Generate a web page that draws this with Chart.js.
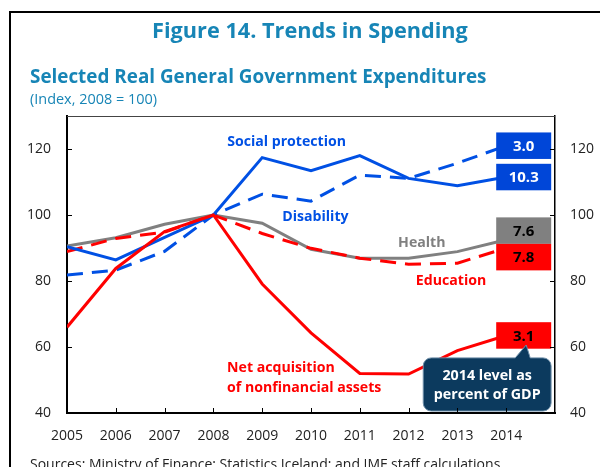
<!DOCTYPE html>
<html>
<head>
<meta charset="utf-8">
<script src="https://cdn.jsdelivr.net/npm/chart.js@4.4.1/dist/chart.umd.min.js"></script>
<style>
  html, body { margin: 0; padding: 0; background: #fff; }
  canvas { display: block; }
</style>
</head>
<body>
<canvas id="myChart" width="600" height="467"></canvas>
<script>
// data (index, 2008 = 100)
const years = [2005, 2006, 2007, 2008, 2009, 2010, 2011, 2012, 2013, 2014];
const socialProtection = [90.4, 86.4, 93.2, 100, 117.4, 113.4, 118.0, 111.1, 108.9, 111.5];
const disability = [81.8, 83.3, 89.0, 100, 106.3, 104.2, 112.1, 111.1, 115.7, 121.0];
const health = [90.6, 93.1, 97.2, 100, 97.5, 89.6, 86.9, 86.9, 88.9, 92.5];
const education = [88.9, 92.9, 94.8, 100, 94.4, 89.9, 86.9, 85.1, 85.4, 90.0];
const netAcquisition = [66.0, 83.8, 95.0, 100, 79.1, 64.3, 52.0, 51.8, 58.9, 63.5];

// 2014 level as percent of GDP
const gdpShare2014 = {
    social: '10.3',
    disability: '3.0',
    health: '7.6',
    education: '7.8',
    netAcq: '3.1'
};

const xTicks = [2005, 2006, 2007, 2008, 2009, 2010, 2011, 2012, 2013, 2014];
const yTicks = [40, 60, 80, 100, 120];

const BLUE = '#0050e4';
const RED = '#ff0000';
const GRAY = '#808080';
const TEAL = '#1785b6';
const FONT = '"Open Sans", sans-serif';

function points(values) {
    return years.map((yr, i) => ({ x: yr, y: values[i] }));
}

// pick a font size so the text comes out at the given width
function fitFont(ctx, text, weight, width) {
    ctx.font = weight + ' 20px ' + FONT;
    const size = 20 * width / ctx.measureText(text).width;
    return weight + ' ' + size.toFixed(2) + 'px ' + FONT;
}

// series styling + where the text label sits (data coords)
const seriesInfo = [
    { key: 'netAcq', data: netAcquisition, color: RED, dash: [], boxFill: RED, boxText: '#000',
      label: ['Net acquisition', 'of nonfinancial assets'], lx: 2008.28, ly: [53.5, 47.6], align: 'left' },
    { key: 'social', data: socialProtection, color: BLUE, dash: [], boxFill: '#0046d8', boxText: '#fff',
      label: ['Social protection'], lx: 2009.5, ly: [122.0], align: 'center' },
    { key: 'education', data: education, color: RED, dash: [16, 9], boxFill: RED, boxText: '#000',
      label: ['Education'], lx: 2012.87, ly: [80.0], align: 'center' },
    { key: 'disability', data: disability, color: BLUE, dash: [16, 9], boxFill: '#0046d8', boxText: '#fff',
      label: ['Disability'], lx: 2010.09, ly: [99.5], align: 'center' },
    { key: 'health', data: health, color: GRAY, dash: [], boxFill: GRAY, boxText: '#000',
      label: ['Health'], lx: 2012.27, ly: [91.4], align: 'center' }
];

// titles, frame, inward ticks
const decorPlugin = {
    id: 'decor',
    afterDraw(chart) {
        const ctx = chart.ctx;
        const { x, y } = chart.scales;
        const area = chart.chartArea;
        ctx.save();
        // outer frame (left + top only visible)
        ctx.strokeStyle = '#000';
        ctx.lineWidth = 2;
        ctx.beginPath();
        ctx.moveTo(10, 470);
        ctx.lineTo(10, 12);
        ctx.lineTo(600, 12);
        ctx.stroke();

        ctx.fillStyle = TEAL;
        ctx.textAlign = 'left';
        ctx.textBaseline = 'alphabetic';
        const title = 'Figure 14. Trends in Spending';
        ctx.font = fitFont(ctx, title, 'bold', 316);
        ctx.fillText(title, 152, 38);
        const sub = 'Selected Real General Government Expenditures';
        ctx.font = fitFont(ctx, sub, 'bold', 457);
        ctx.fillText(sub, 30, 83);
        const idx = '(Index, 2008 = 100)';
        ctx.font = fitFont(ctx, idx, 'normal', 127);
        ctx.fillText(idx, 30, 104);

        ctx.fillStyle = '#222';
        const src = 'Sources: Ministry of Finance; Statistics Iceland; and IMF staff calculations.';
        ctx.font = fitFont(ctx, src, 'normal', 474);
        ctx.fillText(src, 30, 469);

        // top border of plot
        ctx.strokeStyle = '#444';
        ctx.lineWidth = 1;
        ctx.beginPath();
        ctx.moveTo(area.left, area.top + 0.5);
        ctx.lineTo(area.right, area.top + 0.5);
        ctx.stroke();

        // inward ticks
        ctx.strokeStyle = '#000';
        ctx.lineWidth = 1;
        ctx.beginPath();
        yTicks.forEach(v => {
            const py = Math.round(y.getPixelForValue(v)) + 0.5;
            ctx.moveTo(area.left, py); ctx.lineTo(area.left + 5, py);
            ctx.moveTo(area.right, py); ctx.lineTo(area.right - 5, py);
        });
        xTicks.forEach(v => {
            const px = Math.round(x.getPixelForValue(v)) + 0.5;
            ctx.moveTo(px, area.bottom); ctx.lineTo(px, area.bottom - 5);
        });
        ctx.stroke();
        ctx.restore();
    }
};

// series labels, end boxes and the callout
const labelPlugin = {
    id: 'labels',
    afterDatasetsDraw(chart) {
        const ctx = chart.ctx;
        const { x, y } = chart.scales;
        ctx.save();
        const labelFont = fitFont(ctx, 'Social protection', 'bold', 119);
        ctx.textBaseline = 'middle';
        seriesInfo.forEach(s => {
            ctx.font = labelFont;
            ctx.fillStyle = s.color;
            ctx.textAlign = s.align;
            const px = x.getPixelForValue(s.lx);
            s.label.forEach((t, i) => ctx.fillText(t, px, y.getPixelForValue(s.ly[i])));
        });

        // boxes at 2014 values, pushed apart when they overlap
        const boxH = 26.5, boxW = 55;
        const boxL = x.getPixelForValue(2014) - 10;
        const boxes = seriesInfo.map(s => ({ s, cy: y.getPixelForValue(s.data[s.data.length - 1]) }))
            .sort((a, b) => a.cy - b.cy);
        for (let i = 1; i < boxes.length; i++) {
            const gap = boxes[i].cy - boxes[i - 1].cy;
            if (gap < boxH) {
                const mid = (boxes[i].cy + boxes[i - 1].cy) / 2;
                boxes[i - 1].cy = mid - boxH / 2;
                boxes[i].cy = mid + boxH / 2;
            }
        }
        ctx.textAlign = 'center';
        ctx.font = fitFont(ctx, '10.3', 'bold', 30);
        boxes.forEach(b => {
            ctx.fillStyle = b.s.boxFill;
            ctx.fillRect(boxL, b.cy - boxH / 2, boxW, boxH);
            ctx.fillStyle = b.s.boxText;
            ctx.fillText(gdpShare2014[b.s.key], boxL + boxW / 2, b.cy + 1);
        });

        // callout
        const cl = x.getPixelForValue(2012.3), cr = x.getPixelForValue(2014.92);
        const ct = y.getPixelForValue(56.7), cb = y.getPixelForValue(40.6);
        const tipX = x.getPixelForValue(2014.41), tipY = y.getPixelForValue(60.6);
        const r = 8;
        ctx.beginPath();
        ctx.moveTo(cl + r, ct);
        ctx.lineTo(tipX - 11, ct);
        ctx.lineTo(tipX, tipY);
        ctx.lineTo(tipX + 4, ct);
        ctx.lineTo(cr - r, ct);
        ctx.arcTo(cr, ct, cr, ct + r, r);
        ctx.lineTo(cr, cb - r);
        ctx.arcTo(cr, cb, cr - r, cb, r);
        ctx.lineTo(cl + r, cb);
        ctx.arcTo(cl, cb, cl, cb - r, r);
        ctx.lineTo(cl, ct + r);
        ctx.arcTo(cl, ct, cl + r, ct, r);
        ctx.closePath();
        ctx.fillStyle = '#0c3a5e';
        ctx.fill();
        ctx.strokeStyle = '#6d8ea8';
        ctx.lineWidth = 1;
        ctx.stroke();
        ctx.fillStyle = '#fff';
        ctx.font = fitFont(ctx, 'percent of GDP', 'bold', 107);
        const cx = (cl + cr) / 2;
        ctx.fillText('2014 level as', cx, ct + 18);
        ctx.fillText('percent of GDP', cx, ct + 37);
        ctx.restore();
    }
};

const tickFont = { family: FONT, size: 14 };

var ctx = document.getElementById('myChart').getContext('2d');
var chart = new Chart(ctx, {
    type: 'line',
    data: {
        datasets: seriesInfo.map(s => ({
            label: s.key,
            data: points(s.data),
            borderColor: s.color,
            borderWidth: 3,
            borderDash: s.dash,
            pointRadius: 0,
            tension: 0,
            fill: false
        }))
    },
    options: {
        responsive: false,
        animation: false,
        layout: { padding: { top: 116, left: 0, right: 0, bottom: 0 } },
        plugins: {
            legend: { display: false },
            tooltip: { enabled: false }
        },
        scales: {
            x: {
                type: 'linear',
                min: 2005,
                max: 2015,
                afterBuildTicks: s => { s.ticks = xTicks.map(v => ({ value: v })); },
                afterFit: s => { s.height = 54; },
                grid: { drawOnChartArea: false, drawTicks: false },
                border: { color: '#000', width: 2 },
                ticks: { padding: 15, color: '#222', font: tickFont, maxRotation: 0, autoSkip: false,
                         callback: v => String(v) }
            },
            y: {
                min: 40,
                max: 130,
                afterBuildTicks: s => { s.ticks = yTicks.map(v => ({ value: v })); },
                afterFit: s => { s.width = 67; },
                grid: { drawOnChartArea: false, drawTicks: false },
                border: { color: '#000', width: 2 },
                ticks: { padding: 16, color: '#222', font: tickFont }
            },
            y2: {
                position: 'right',
                min: 40,
                max: 130,
                afterBuildTicks: s => { s.ticks = yTicks.map(v => ({ value: v })); },
                afterFit: s => { s.width = 45; },
                grid: { drawOnChartArea: false, drawTicks: false },
                border: { color: '#000', width: 1.5 },
                ticks: { padding: 15, color: '#222', font: tickFont }
            }
        }
    },
    plugins: [labelPlugin, decorPlugin]
});
</script>
</body>
</html>
